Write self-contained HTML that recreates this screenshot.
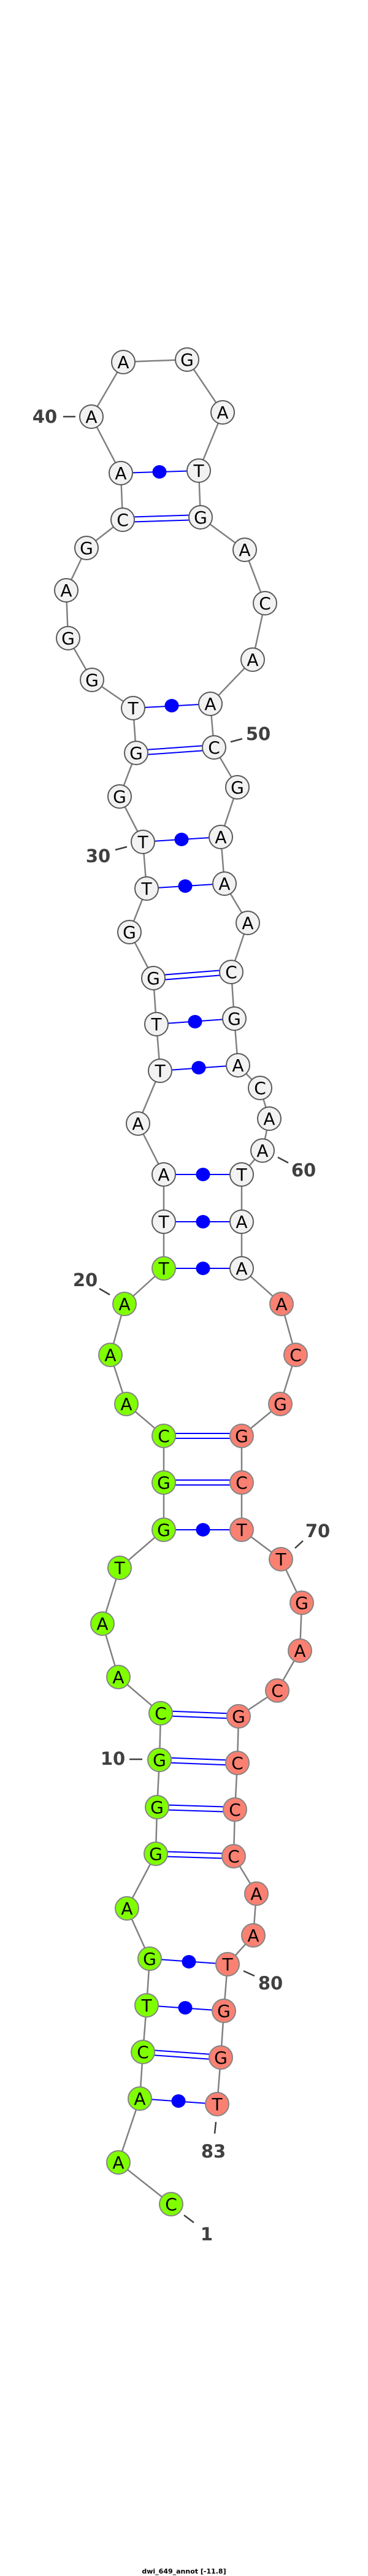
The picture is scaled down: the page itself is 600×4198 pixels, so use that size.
<!DOCTYPE html>
<html><head><meta charset="utf-8"><style>
html,body{margin:0;padding:0;background:#fff;}
svg{display:block;}
.n{stroke:#5a5a5a;stroke-width:2;}
.w{fill:#f2f2f2;}
.g{fill:#7fff00;stroke:#858585;}
.r{fill:#fa8072;stroke:#858585;}
.t{font-family:"DejaVu Sans","Liberation Sans",sans-serif;font-size:28px;text-anchor:middle;fill:#000;}
.l{font-family:"DejaVu Sans","Liberation Sans",sans-serif;font-size:29px;font-weight:bold;text-anchor:middle;fill:#404040;}
.lk{stroke:#404040;stroke-width:2.5;}
.p{stroke:#0000ff;stroke-width:2;}
</style></head><body>
<svg width="600" height="4198" viewBox="0 0 600 4198" xmlns="http://www.w3.org/2000/svg">
<polyline fill="none" stroke="#808080" stroke-width="2.5" points="279,3592 193,3524 228,3420 233,3344 239,3268 244,3192 207,3110 254,3021 256,2945 260,2868 262,2792 193,2733 167,2646 195,2555 267,2493 267,2416 267,2340 206,2288 180,2208 203,2125 267,2067 267,1991 267,1914 225,1831 261,1745 255,1669 250,1594 211,1519 239,1448 233,1372 195,1298 222,1227 217,1154 150,1108 111,1040 108,962 141,893 200,847 197,771 149,679 201,590 305,586 363,672 324,767 327,843 399,896 432,983 412,1075 343,1147 349,1218 387,1283 360,1364 366,1440 404,1504 377,1584 382,1660 388,1736 424,1773 439,1823 428,1875 394,1914 394,1991 394,2067 459,2125 482,2208 457,2288 394,2340 394,2416 394,2493 458,2541 492,2612 489,2690 452,2755 389,2797 387,2873 383,2949 381,3025 418,3086 413,3154 371,3201 365,3277 360,3353 354,3429"/>
<!-- single pairs -->
<g class="p">
<line x1="197" y1="771" x2="324" y2="767"/>
<line x1="217" y1="1154" x2="343" y2="1147"/>
<line x1="233" y1="1372" x2="360" y2="1364"/>
<line x1="239" y1="1448" x2="366" y2="1440"/>
<line x1="255" y1="1669" x2="382" y2="1660"/>
<line x1="261" y1="1745" x2="388" y2="1736"/>
<line x1="267" y1="1914" x2="394" y2="1914"/>
<line x1="267" y1="1991" x2="394" y2="1991"/>
<line x1="267" y1="2067" x2="394" y2="2067"/>
<line x1="267" y1="2493" x2="394" y2="2493"/>
<line x1="244" y1="3192" x2="371" y2="3201"/>
<line x1="239" y1="3268" x2="365" y2="3277"/>
<line x1="228" y1="3420" x2="354" y2="3429"/>
<!-- double pairs -->
<line x1="200" y1="843" x2="327" y2="839"/><line x1="200" y1="851" x2="327" y2="847"/>
<line x1="222" y1="1223" x2="349" y2="1214"/><line x1="222" y1="1231" x2="349" y2="1222"/>
<line x1="250" y1="1590" x2="377" y2="1580"/><line x1="250" y1="1598" x2="377" y2="1588"/>
<line x1="267" y1="2336" x2="394" y2="2336"/><line x1="267" y1="2344" x2="394" y2="2344"/>
<line x1="267" y1="2412" x2="394" y2="2412"/><line x1="267" y1="2420" x2="394" y2="2420"/>
<line x1="262" y1="2788" x2="389" y2="2793"/><line x1="262" y1="2796" x2="389" y2="2801"/>
<line x1="260" y1="2864" x2="387" y2="2869"/><line x1="260" y1="2872" x2="387" y2="2877"/>
<line x1="256" y1="2941" x2="383" y2="2945"/><line x1="256" y1="2949" x2="383" y2="2953"/>
<line x1="254" y1="3017" x2="381" y2="3021"/><line x1="254" y1="3025" x2="381" y2="3029"/>
<line x1="233" y1="3340" x2="360" y2="3349"/><line x1="233" y1="3348" x2="360" y2="3357"/>
</g>
<g fill="#0000ff">
<ellipse cx="260" cy="769" rx="11.5" ry="11"/>
<ellipse cx="280" cy="1150" rx="11.5" ry="11"/>
<ellipse cx="296" cy="1368" rx="11.5" ry="11"/>
<ellipse cx="302" cy="1444" rx="11.5" ry="11"/>
<ellipse cx="318" cy="1665" rx="11.5" ry="11"/>
<ellipse cx="324" cy="1740" rx="11.5" ry="11"/>
<ellipse cx="331" cy="1914" rx="11.5" ry="11"/>
<ellipse cx="331" cy="1991" rx="11.5" ry="11"/>
<ellipse cx="331" cy="2067" rx="11.5" ry="11"/>
<ellipse cx="331" cy="2493" rx="11.5" ry="11"/>
<ellipse cx="308" cy="3197" rx="11.5" ry="11"/>
<ellipse cx="302" cy="3272" rx="11.5" ry="11"/>
<ellipse cx="291" cy="3424" rx="11.5" ry="11"/>
</g>
<!-- nodes -->
<g class="n">
<circle class="g" cx="279" cy="3592" r="19"/><circle class="g" cx="193" cy="3524" r="19"/><circle class="g" cx="228" cy="3420" r="19"/><circle class="g" cx="233" cy="3344" r="19"/><circle class="g" cx="239" cy="3268" r="19"/><circle class="g" cx="244" cy="3192" r="19"/><circle class="g" cx="207" cy="3110" r="19"/><circle class="g" cx="254" cy="3021" r="19"/><circle class="g" cx="256" cy="2945" r="19"/><circle class="g" cx="260" cy="2868" r="19"/><circle class="g" cx="262" cy="2792" r="19"/><circle class="g" cx="193" cy="2733" r="19"/><circle class="g" cx="167" cy="2646" r="19"/><circle class="g" cx="195" cy="2555" r="19"/><circle class="g" cx="267" cy="2493" r="19"/><circle class="g" cx="267" cy="2416" r="19"/><circle class="g" cx="267" cy="2340" r="19"/><circle class="g" cx="206" cy="2288" r="19"/><circle class="g" cx="180" cy="2208" r="19"/><circle class="g" cx="203" cy="2125" r="19"/><circle class="g" cx="267" cy="2067" r="19"/>
<circle class="w" cx="267" cy="1991" r="19"/><circle class="w" cx="267" cy="1914" r="19"/><circle class="w" cx="225" cy="1831" r="19"/><circle class="w" cx="261" cy="1745" r="19"/><circle class="w" cx="255" cy="1669" r="19"/><circle class="w" cx="250" cy="1594" r="19"/><circle class="w" cx="211" cy="1519" r="19"/><circle class="w" cx="239" cy="1448" r="19"/><circle class="w" cx="233" cy="1372" r="19"/><circle class="w" cx="195" cy="1298" r="19"/><circle class="w" cx="222" cy="1227" r="19"/><circle class="w" cx="217" cy="1154" r="19"/><circle class="w" cx="150" cy="1108" r="19"/><circle class="w" cx="111" cy="1040" r="19"/><circle class="w" cx="108" cy="962" r="19"/><circle class="w" cx="141" cy="893" r="19"/><circle class="w" cx="200" cy="847" r="19"/><circle class="w" cx="197" cy="771" r="19"/><circle class="w" cx="149" cy="679" r="19"/><circle class="w" cx="201" cy="590" r="19"/><circle class="w" cx="305" cy="586" r="19"/><circle class="w" cx="363" cy="672" r="19"/><circle class="w" cx="324" cy="767" r="19"/><circle class="w" cx="327" cy="843" r="19"/><circle class="w" cx="399" cy="896" r="19"/><circle class="w" cx="432" cy="983" r="19"/><circle class="w" cx="412" cy="1075" r="19"/><circle class="w" cx="343" cy="1147" r="19"/><circle class="w" cx="349" cy="1218" r="19"/><circle class="w" cx="387" cy="1283" r="19"/><circle class="w" cx="360" cy="1364" r="19"/><circle class="w" cx="366" cy="1440" r="19"/><circle class="w" cx="404" cy="1504" r="19"/><circle class="w" cx="377" cy="1584" r="19"/><circle class="w" cx="382" cy="1660" r="19"/><circle class="w" cx="388" cy="1736" r="19"/><circle class="w" cx="424" cy="1773" r="19"/><circle class="w" cx="439" cy="1823" r="19"/><circle class="w" cx="428" cy="1875" r="19"/><circle class="w" cx="394" cy="1914" r="19"/><circle class="w" cx="394" cy="1991" r="19"/><circle class="w" cx="394" cy="2067" r="19"/>
<circle class="r" cx="459" cy="2125" r="19"/><circle class="r" cx="482" cy="2208" r="19"/><circle class="r" cx="457" cy="2288" r="19"/><circle class="r" cx="394" cy="2340" r="19"/><circle class="r" cx="394" cy="2416" r="19"/><circle class="r" cx="394" cy="2493" r="19"/><circle class="r" cx="458" cy="2541" r="19"/><circle class="r" cx="492" cy="2612" r="19"/><circle class="r" cx="489" cy="2690" r="19"/><circle class="r" cx="452" cy="2755" r="19"/><circle class="r" cx="389" cy="2797" r="19"/><circle class="r" cx="387" cy="2873" r="19"/><circle class="r" cx="383" cy="2949" r="19"/><circle class="r" cx="381" cy="3025" r="19"/><circle class="r" cx="418" cy="3086" r="19"/><circle class="r" cx="413" cy="3154" r="19"/><circle class="r" cx="371" cy="3201" r="19"/><circle class="r" cx="365" cy="3277" r="19"/><circle class="r" cx="360" cy="3353" r="19"/><circle class="r" cx="354" cy="3429" r="19"/>
</g>
<g class="t">
<text x="279" y="3602">C</text><text x="193" y="3534">A</text><text x="228" y="3430">A</text><text x="233" y="3354">C</text><text x="239" y="3278">T</text><text x="244" y="3202">G</text><text x="207" y="3120">A</text><text x="254" y="3031">G</text><text x="256" y="2955">G</text><text x="260" y="2878">G</text><text x="262" y="2802">C</text><text x="193" y="2743">A</text><text x="167" y="2656">A</text><text x="195" y="2565">T</text><text x="267" y="2503">G</text><text x="267" y="2426">G</text><text x="267" y="2350">C</text><text x="206" y="2298">A</text><text x="180" y="2218">A</text><text x="203" y="2135">A</text><text x="267" y="2077">T</text>
<text x="267" y="2001">T</text><text x="267" y="1924">A</text><text x="225" y="1841">A</text><text x="261" y="1755">T</text><text x="255" y="1679">T</text><text x="250" y="1604">G</text><text x="211" y="1529">G</text><text x="239" y="1458">T</text><text x="233" y="1382">T</text><text x="195" y="1308">G</text><text x="222" y="1237">G</text><text x="217" y="1164">T</text><text x="150" y="1118">G</text><text x="111" y="1050">G</text><text x="108" y="972">A</text><text x="141" y="903">G</text><text x="200" y="857">C</text><text x="197" y="781">A</text><text x="149" y="689">A</text><text x="201" y="600">A</text><text x="305" y="596">G</text><text x="363" y="682">A</text><text x="324" y="777">T</text><text x="327" y="853">G</text><text x="399" y="906">A</text><text x="432" y="993">C</text><text x="412" y="1085">A</text><text x="343" y="1157">A</text><text x="349" y="1228">C</text><text x="387" y="1293">G</text><text x="360" y="1374">A</text><text x="366" y="1450">A</text><text x="404" y="1514">A</text><text x="377" y="1594">C</text><text x="382" y="1670">G</text><text x="388" y="1746">A</text><text x="424" y="1783">C</text><text x="439" y="1833">A</text><text x="428" y="1885">A</text><text x="394" y="1924">T</text><text x="394" y="2001">A</text><text x="394" y="2077">A</text>
<text x="459" y="2135">A</text><text x="482" y="2218">C</text><text x="457" y="2298">G</text><text x="394" y="2350">G</text><text x="394" y="2426">C</text><text x="394" y="2503">T</text><text x="458" y="2551">T</text><text x="492" y="2622">G</text><text x="489" y="2700">A</text><text x="452" y="2765">C</text><text x="389" y="2807">G</text><text x="387" y="2883">C</text><text x="383" y="2959">C</text><text x="381" y="3035">C</text><text x="418" y="3096">A</text><text x="413" y="3164">A</text><text x="371" y="3211">T</text><text x="365" y="3287">G</text><text x="360" y="3363">G</text><text x="354" y="3439">T</text>
</g>
<g class="lk">
<line x1="103" y1="679" x2="123" y2="679"/>
<line x1="376" y1="1209" x2="395" y2="1204"/>
<line x1="188" y1="1385" x2="207" y2="1380"/>
<line x1="453" y1="1886" x2="470" y2="1895"/>
<line x1="162" y1="2100" x2="179" y2="2110"/>
<line x1="481" y1="2523" x2="494" y2="2511"/>
<line x1="211" y1="2867" x2="232" y2="2867"/>
<line x1="397" y1="3212" x2="415" y2="3220"/>
<line x1="352" y1="3458" x2="350" y2="3477"/>
<line x1="300" y1="3610" x2="316" y2="3622"/>
</g>
<g class="l">
<text x="73" y="689">40</text>
<text x="421" y="1206">50</text>
<text x="160" y="1405">30</text>
<text x="495" y="1917">60</text>
<text x="139" y="2096">20</text>
<text x="518" y="2505">70</text>
<text x="184" y="2876">10</text>
<text x="441" y="3242">80</text>
<text x="348" y="3516">83</text>
<text x="337" y="3651">1</text>
</g>
<text x="300" y="4194" text-anchor="middle" font-family="DejaVu Sans, Liberation Sans, sans-serif" font-size="11" font-weight="bold" fill="#000">dwi_649_annot [-11.8]</text>
</svg>
</body></html>
